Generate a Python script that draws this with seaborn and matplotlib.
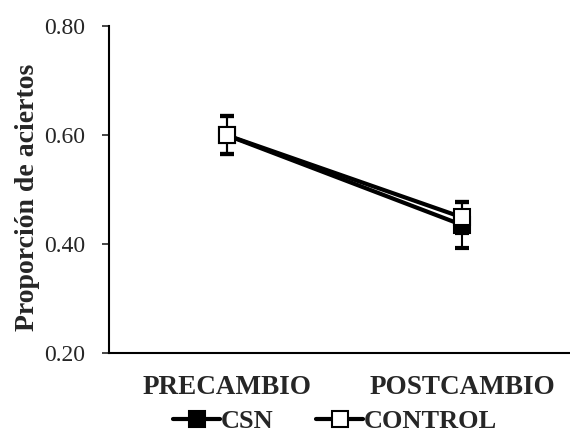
import pandas as pd
import matplotlib
matplotlib.use('Agg')
import matplotlib.pyplot as plt
import seaborn as sns

# Data
phases = ['PRECAMBIO', 'POSTCAMBIO']
csn_mean = [0.60, 0.435]
csn_err = [0.035, 0.043]
control_mean = [0.60, 0.449]
control_err = [0.035, 0.028]
y_ticks = [0.20, 0.40, 0.60, 0.80]

sns.set_style('white')
plt.rcParams['font.family'] = ['Liberation Serif', 'DejaVu Serif']

df = pd.DataFrame({
    'fase': phases * 2,
    'media': csn_mean + control_mean,
    'err': csn_err + control_err,
    'grupo': ['CSN'] * 2 + ['CONTROL'] * 2,
})

fig = plt.figure(figsize=(5.7, 4.37), dpi=100)
ax = fig.add_axes([0.191, 0.192, 0.827, 0.748])

styles = {'CSN': 'black', 'CONTROL': 'white'}
for grupo, face in styles.items():
    sub = df[df['grupo'] == grupo]
    ax.errorbar(sub['fase'], sub['media'], yerr=sub['err'], fmt='none',
                ecolor='black', elinewidth=1.5, capsize=5, capthick=3, zorder=2)
for grupo, face in styles.items():
    sub = df[df['grupo'] == grupo]
    sns.lineplot(data=sub, x='fase', y='media', ax=ax, color='black',
                 linewidth=3, marker='s', markersize=11,
                 markerfacecolor=face, markeredgecolor='black',
                 markeredgewidth=1.5, label=grupo, zorder=3)

ax.set_xlim(-0.5, 1.5)
ax.set_ylim(0.20, 0.80)
ax.set_yticks(y_ticks)
ax.set_yticklabels([f'{t:.2f}' for t in y_ticks], fontsize=17)
ax.set_xticks([0, 1])
ax.set_xticklabels(phases, fontsize=19.5, fontweight='bold')
ax.tick_params(axis='y', direction='out', length=5, width=1.2, left=True, pad=12)
ax.tick_params(axis='x', length=0, pad=16)
ax.set_xlabel('')
ax.set_ylabel('Proporción de aciertos', fontsize=20, fontweight='bold')
ax.yaxis.set_label_coords(-0.146, 0.477)

for side in ['top', 'right']:
    ax.spines[side].set_visible(False)
for side in ['left', 'bottom']:
    ax.spines[side].set_color('black')
    ax.spines[side].set_linewidth(1.5)

leg = ax.legend(loc='center', bbox_to_anchor=(0.48, -0.208), ncol=2,
                frameon=False, handlelength=1.8, handletextpad=0.02,
                columnspacing=1.6, borderpad=0.1, prop={'size': 19, 'weight': 'bold'})

fig.savefig('out.png', dpi=100)
